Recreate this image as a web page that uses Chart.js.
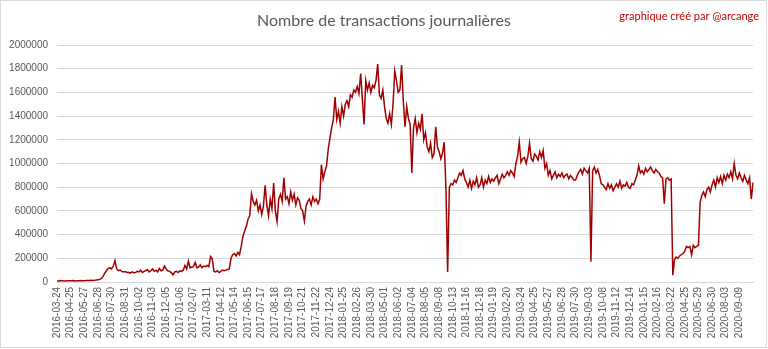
<!DOCTYPE html>
<html>
<head>
<meta charset="utf-8">
<script src="https://cdn.jsdelivr.net/npm/chart.js@4"></script>
<style>
  html, body { margin: 0; padding: 0; background: #fff; }
  canvas { display: block; }
</style>
</head>
<body>
<canvas id="tx_chart" width="768" height="349"></canvas>
<script>
// Nombre de transactions journalières (values in thousands, one point ~ every 4 days)
const TITLE = "Nombre de transactions journalières";
const CREDIT = "graphique créé par @arcange";

// one tick label every 8 points
const TICK_LABELS = [
  "2016-03-24", "2016-04-25", "2016-05-27", "2016-06-28", "2016-07-30", "2016-08-31",
  "2016-10-02", "2016-11-03", "2016-12-05", "2017-01-06", "2017-02-07", "2017-03-11",
  "2017-04-12", "2017-05-14", "2017-06-15", "2017-07-17", "2017-08-18", "2017-09-19",
  "2017-10-21", "2017-11-22", "2017-12-24", "2018-01-25", "2018-02-26", "2018-03-30",
  "2018-05-01", "2018-06-02", "2018-07-04", "2018-08-05", "2018-09-08", "2018-10-13",
  "2018-11-16", "2018-12-18", "2019-01-19", "2019-02-20", "2019-03-24", "2019-04-25",
  "2019-05-27", "2019-06-28", "2019-07-30", "2019-09-03", "2019-10-08", "2019-11-12",
  "2019-12-14", "2020-01-15", "2020-02-16", "2020-03-22", "2020-04-25", "2020-05-29",
  "2020-06-30", "2020-08-03", "2020-09-09"
];
const POINTS_PER_TICK = 8;

const TX_THOUSANDS = [
  6, 9, 12, 10, 8, 9, 11, 10,
  10, 12, 11, 9, 10, 11, 12, 10,
  11, 12, 13, 12, 14, 13, 15, 16,
  18, 22, 30, 45, 75, 95, 115, 120,
  110, 135, 180, 110, 95, 100, 90, 85,
  88, 80, 82, 75, 85, 78, 80, 90,
  85, 100, 80, 90, 95, 105, 85, 95,
  110, 90, 100, 85, 115, 95, 100, 135,
  110, 95, 90, 80, 60, 85, 90, 80,
  95, 90, 100, 140, 110, 175, 120, 125,
  130, 165, 120, 125, 145, 120, 135, 130,
  140, 130, 215, 195, 90, 85, 95, 80,
  90, 100, 95, 100, 105, 110, 200, 230,
  240, 220, 250, 230, 300, 385, 430, 470,
  530, 560, 745, 680, 650, 690, 600, 650,
  570, 640, 815, 650, 560, 700, 620, 835,
  600, 510, 700, 740, 680, 880, 700, 720,
  660, 760, 690, 740, 650, 710, 690, 620,
  600, 515, 640, 680, 700, 650, 720, 680,
  700, 660, 700, 990, 870, 930, 980, 1120,
  1215, 1300, 1370, 1560, 1370, 1440, 1340, 1480,
  1400, 1500, 1530, 1480, 1580, 1560, 1620, 1600,
  1650, 1590, 1760, 1550, 1330, 1700, 1620, 1680,
  1600, 1660, 1640, 1700, 1840, 1580, 1550, 1620,
  1480, 1380, 1340, 1420, 1330, 1500, 1780, 1700,
  1600, 1620, 1830, 1530, 1310, 1480, 1380, 1330,
  920, 1300, 1380, 1260, 1340, 1290, 1420, 1200,
  1260, 1140, 1100, 1170, 1050, 1080, 1310, 1140,
  1100, 1040, 1090, 1180, 780, 85, 800, 830,
  820, 860, 840, 880, 920, 900, 940, 870,
  840, 800, 860, 790, 850, 820, 880, 800,
  820, 880, 800, 860, 830, 890, 840, 870,
  850, 880, 900, 830, 870, 910, 880, 900,
  930, 900, 940, 920, 890, 1000, 1060, 1180,
  1010, 1040, 1050, 1000, 1060, 1170, 1040, 1020,
  1080, 1060, 1030, 1100, 1050, 1110, 960, 1000,
  900, 940, 870, 900, 930, 880, 910, 890,
  920, 880, 900, 910, 870, 900, 880, 860,
  860, 900, 930, 950, 910, 960, 940, 920,
  960, 170, 940, 970, 920, 950, 900, 830,
  820, 800, 780, 830, 790, 820, 770, 800,
  830, 800, 850, 790, 820, 810, 840, 800,
  790, 830, 820, 860, 900, 980, 920, 940,
  910, 960, 930, 950, 970, 940, 920, 950,
  930, 920, 890, 880, 660, 870, 880, 860,
  870, 57, 190, 210, 200, 220, 230, 240,
  260, 300, 290, 300, 230, 310, 290, 300,
  310, 670, 730, 760, 720, 780, 800, 760,
  820, 860, 800, 880, 840, 890, 830, 900,
  860, 910, 880, 930, 870, 1000, 900, 870,
  920, 880, 850, 900, 860, 830, 880, 700,
  840
];

const Y_MAX = 2000000;
const Y_STEP = 200000;

// category labels: tick label at the start of each block, blank otherwise
const labels = TX_THOUSANDS.map((_, i) =>
  i % POINTS_PER_TICK === 0 ? (TICK_LABELS[i / POINTS_PER_TICK] || '') : ''
);
const values = TX_THOUSANDS.map(v => v * 1000);

const GREY = '#595959';

// title, credit and outer frame
const decorPlugin = {
  id: 'decor',
  afterDraw(chart) {
    const { ctx } = chart;
    ctx.save();
    ctx.strokeStyle = '#d9d9d9';
    ctx.lineWidth = 1;
    ctx.strokeRect(0.5, 0.5, chart.width - 2, chart.height - 2);

    ctx.fillStyle = GREY;
    ctx.font = '16px Lato';
    ctx.textAlign = 'center';
    ctx.textBaseline = 'middle';
    ctx.fillText(TITLE, 384, 21);

    ctx.fillStyle = '#c00000';
    ctx.font = '11px Lato';
    ctx.textAlign = 'right';
    ctx.fillText(CREDIT, 759, 16);
    ctx.restore();
  }
};

new Chart(document.getElementById('tx_chart'), {
  type: 'line',
  data: {
    labels,
    datasets: [{
      label: TITLE,
      data: values,
      borderColor: '#a00000',
      borderWidth: 1.5,
      pointRadius: 0,
      tension: 0,
      fill: false
    }]
  },
  options: {
    responsive: false,
    animation: false,
    devicePixelRatio: 1,
    layout: { padding: { left: 0, right: 15, top: 45, bottom: 0 } },
    plugins: {
      legend: { display: false },
      title: { display: false },
      tooltip: { enabled: false }
    },
    scales: {
      x: {
        offset: false,
        grid: { display: false, drawTicks: false },
        border: { display: true, color: '#d9d9d9' },
        ticks: {
          autoSkip: false,
          minRotation: 90,
          maxRotation: 90,
          padding: 5,
          color: GREY,
          font: { family: 'Liberation Sans', size: 10 },
          callback(value) {
            const l = this.getLabelForValue(value);
            return l === '' ? null : l;
          }
        },
        afterFit(scale) { scale.height = 67; }
      },
      y: {
        min: 0,
        max: Y_MAX,
        grid: { color: '#d9d9d9', drawTicks: false },
        border: { display: false },
        ticks: {
          stepSize: Y_STEP,
          padding: 9,
          color: GREY,
          font: { family: 'Liberation Sans', size: 10 },
          callback: v => String(v)
        },
        afterFit(scale) { scale.width = 57; }
      }
    }
  },
  plugins: [decorPlugin]
});
</script>
</body>
</html>
